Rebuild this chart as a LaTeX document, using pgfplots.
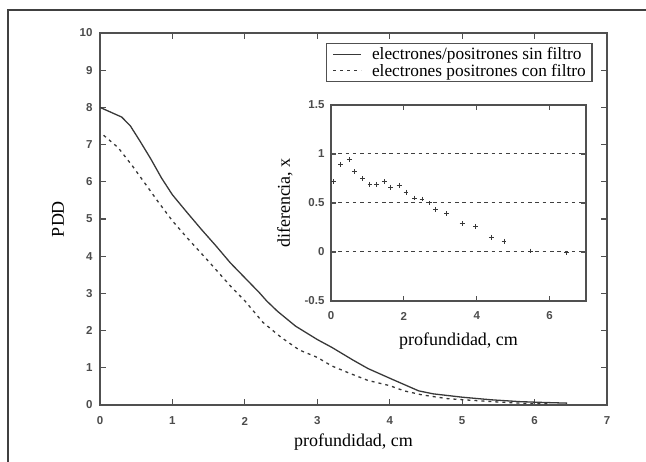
\documentclass[border=0pt]{standalone}
\usepackage{pgfplots}
\pgfplotsset{compat=1.18}
\usepackage{fontspec}
\setmainfont{Liberation Serif}
\setsansfont{Liberation Sans}

\definecolor{axisgray}{HTML}{505050}
\definecolor{curvegray}{HTML}{383838}

% depth-dose curves (PDD vs depth, cm)
\pgfplotstableread{
x y
0.00 8.00
0.30 7.74
0.42 7.50
0.55 7.10
0.70 6.62
0.85 6.10
1.00 5.65
1.20 5.18
1.40 4.72
1.60 4.28
1.80 3.82
2.00 3.42
2.20 3.02
2.30 2.80
2.45 2.52
2.70 2.12
3.00 1.76
3.20 1.55
3.50 1.20
3.70 0.98
4.00 0.72
4.20 0.55
4.40 0.38
4.60 0.30
5.00 0.21
5.40 0.14
5.80 0.09
6.10 0.07
6.45 0.05
}\sinfiltro

\pgfplotstableread{
x y
0.05 7.25
0.25 6.92
0.45 6.42
0.62 5.96
0.80 5.47
1.00 4.95
1.20 4.50
1.50 3.86
1.80 3.20
2.00 2.80
2.25 2.22
2.50 1.82
2.75 1.48
3.00 1.28
3.20 1.05
3.45 0.85
3.70 0.66
4.00 0.52
4.20 0.38
4.45 0.27
4.80 0.17
5.10 0.13
5.50 0.08
5.80 0.05
6.20 0.03
}\confiltro

% difference between the two curves
\pgfplotstableread{
x y
0.06 0.72
0.27 0.89
0.50 0.94
0.64 0.82
0.87 0.75
1.07 0.69
1.24 0.69
1.46 0.72
1.64 0.66
1.87 0.68
2.06 0.61
2.30 0.55
2.50 0.54
2.71 0.50
2.87 0.43
3.17 0.39
3.60 0.29
3.97 0.26
4.40 0.15
4.75 0.11
5.47 0.01
6.47 -0.01
}\diferencia

\begin{document}
\begin{tikzpicture}[x=1pt,y=1pt]
% open frame (top and left rules)
\draw[line width=1.2pt, color=black!75] (646,-10) -- (8,-10) -- (8,-462);

\begin{axis}[
  at={(100pt,-405pt)}, anchor=south west,
  width=507pt, height=372pt, scale only axis,
  xmin=0, xmax=7, ymin=0, ymax=10,
  xtick={0,...,7}, ytick={0,...,10},
  tick align=inside, major tick length=6pt,
  axis line style={line width=1.4pt, color=axisgray},
  tick style={line width=1.1pt, color=axisgray},
  /pgf/number format/assume math mode=true,
  tick label style={font=\sffamily\bfseries\fontsize{11.5}{12}\selectfont, color=black!70},
  xticklabel style={anchor=center, yshift=-16pt},
  yticklabel style={anchor=east, xshift=-4pt},
  label style={font=\fontsize{18}{18}\selectfont, color=black},
  xlabel={profundidad, cm},
  xlabel style={at={(axis description cs:0.5,-0.0995)}, anchor=center},
  ylabel={PDD},
  ylabel style={at={(axis description cs:-0.0828,0.5)}, anchor=center},
  legend style={at={(0.4458,0.973)}, anchor=north west,
    draw=axisgray, line width=1.4pt, fill=white,
    font=\fontsize{17.3}{17}\selectfont,
    nodes={inner xsep=0pt, inner ysep=0.5pt},
    inner xsep=6pt, inner ysep=3.5pt, row sep=1.5pt, column sep=10pt},
  legend cell align=left,
  legend image code/.code={\draw[#1] (0pt,0pt) -- (28pt,0pt);},
]
\addplot[curvegray, line width=1.3pt] table {\sinfiltro};
\addlegendentry{electrones/positrones sin filtro\hspace{8pt}}
\addplot[curvegray, line width=1.3pt, dash pattern=on 3pt off 4pt] table {\confiltro};
\addlegendentry{electrones positrones con filtro\hspace{8pt}}
\end{axis}

\begin{axis}[
  at={(331pt,-301pt)}, anchor=south west,
  width=255pt, height=196pt, scale only axis,
  axis background/.style={fill=white},
  xmin=0, xmax=7, ymin=-0.5, ymax=1.5,
  xtick={0,2,4,6}, ytick={-0.5,0,0.5,1,1.5},
  tick align=inside, major tick length=5pt,
  axis line style={line width=1.4pt, color=axisgray},
  tick style={line width=1.1pt, color=axisgray},
  ymajorgrids,
  grid style={dash pattern=on 3.5pt off 3.8pt, line width=1pt, color=black!75},
  /pgf/number format/assume math mode=true,
  tick label style={font=\sffamily\bfseries\fontsize{11.5}{12}\selectfont, color=black!70},
  xticklabel style={anchor=center, yshift=-15pt},
  yticklabel style={anchor=east, xshift=-3pt},
  label style={font=\fontsize{18}{18}\selectfont, color=black},
  xlabel={profundidad, cm},
  xlabel style={at={(axis description cs:0.5,-0.205)}, anchor=center},
  ylabel={diferencia, x},
  ylabel style={at={(axis description cs:-0.1804,0.5)}, anchor=center},
]
\addplot[only marks, mark=+, mark size=2.4pt, curvegray, mark options={line width=1pt}] table {\diferencia};
\end{axis}

\pgfresetboundingbox
\useasboundingbox (0,0) rectangle (646,-462);
\end{tikzpicture}
\end{document}
